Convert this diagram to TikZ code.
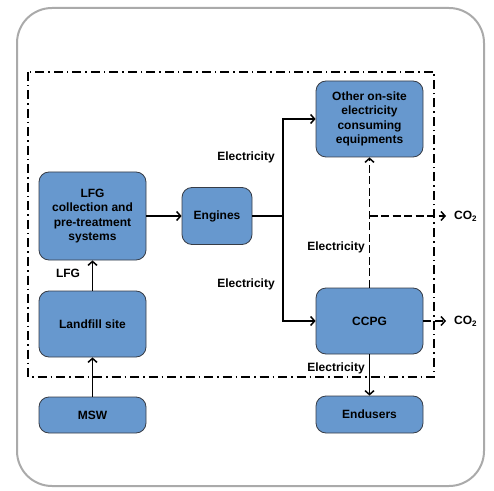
\documentclass[tikz,border=0pt]{standalone}
\usepackage{fontspec}
\setmainfont{Liberation Sans}
\usetikzlibrary{arrows.meta}

\begin{document}
\begin{tikzpicture}[x=1pt,y=1pt,
    font=\bfseries\fontsize{12}{14.5}\selectfont,
    unit/.style={draw=edge1,fill=box1,rounded corners=10pt,line width=0.8pt,
        minimum width=107pt,align=center,inner sep=0pt},
    flow/.style={line width=1.5pt,-{Straight Barb[length=4pt,width=9pt]}},
    gasflow/.style={flow,dash pattern=on 8pt off 3.5pt},
    lbl/.style={inner sep=1pt}]
\definecolor{box1}{RGB}{103,152,206}
\definecolor{edge1}{RGB}{55,60,70}
\definecolor{frame1}{RGB}{170,170,170}
\useasboundingbox (0,0) rectangle (494,490);
\draw[frame1,line width=2pt,rounded corners=35pt] (17,482) rectangle (484,4);
\draw[line width=1.3pt,dash pattern=on 9pt off 4pt on 1.5pt off 4pt] (28,418) rectangle (434,113);

\node[unit,minimum height=88pt] (lfg) at (92.5,274) {LFG\\collection and\\pre-treatment\\systems};
\node[unit,minimum width=70pt,minimum height=57pt] (engines) at (217,274) {Engines};
\node[unit,minimum height=76pt] (other) at (369.5,371) {Other on-site\\electricity\\consuming\\equipments};
\node[unit,minimum height=66pt] (landfill) at (92.5,166) {Landfill site};
\node[unit,minimum height=36pt] (msw) at (92.5,75) {MSW};
\node[unit,minimum height=66pt] (ccpg) at (369.5,169) {CCPG};
\node[unit,minimum height=37pt] (endusers) at (369.5,75.5) {Endusers};

\coordinate (split) at (283,274);
\coordinate (vent) at (369.5,274);
\node[lbl,anchor=west] (co2a) at (453,274) {CO\textsubscript{2}};
\node[lbl,anchor=west] (co2b) at (453,169) {CO\textsubscript{2}};

\draw[flow] (msw) -- (landfill);
\draw[flow] (landfill) -- (lfg);
\draw[flow] (lfg) -- (engines);
\draw[line width=1.5pt] (engines) -- (split);
\draw[flow] (split) |- (other);
\draw[flow] (split) |- (ccpg);
\draw[gasflow] (ccpg) -- (other);
\draw[gasflow,shorten >=7pt] (vent) -- (co2a);
\draw[gasflow,shorten >=7pt] (ccpg) -- (co2b);
\draw[flow] (ccpg) -- (endusers);

\node[lbl] (lfglbl) at (68,217) {LFG};
\node[lbl] (elec1) at (246,333) {Electricity};
\node[lbl] (elec2) at (246,206) {Electricity};
\node[lbl] (elec3) at (336,243) {Electricity};
\node[lbl] (elec4) at (336,122) {Electricity};
\end{tikzpicture}
\end{document}
